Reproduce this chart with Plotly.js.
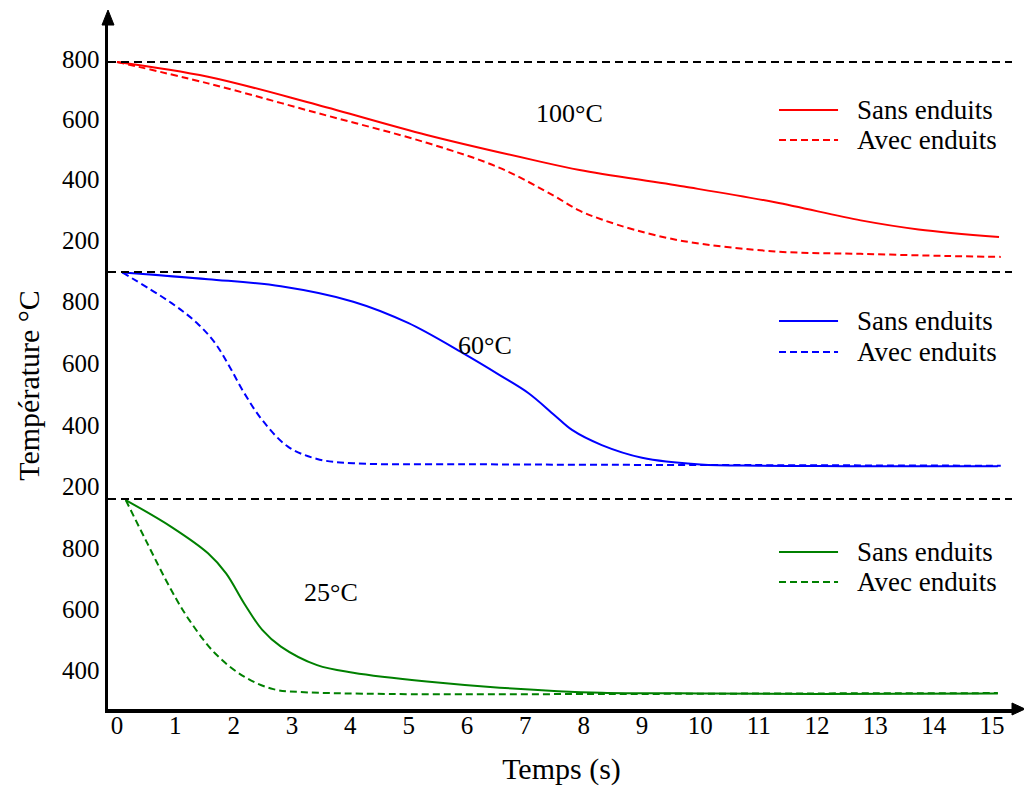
<!DOCTYPE html>
<html>
<head>
<meta charset="utf-8">
<script src="https://cdn.plot.ly/plotly-3.0.1.min.js"></script>
<style>html,body{margin:0;padding:0;background:#fff;}#chart{width:1024px;height:787px;}</style>
</head>
<body>
<div id="chart"></div>
<script>
// ---- Data (time in s, temperature in °C) ----
const tRedSans  = [0, 1.56, 3.43, 5.31, 7.18, 7.93, 9.72, 11.28, 12.75, 13.74, 15.12];
const vRedSans  = [790, 741, 648, 548, 463, 432, 377, 325, 265, 235, 210];
const tRedAvec  = [0, 1.56, 3.43, 5.31, 6.56, 7.5, 7.93, 8.31, 8.87, 9.72, 11.28, 12.75, 14.22, 15.15];
const vRedAvec  = [790, 719, 621, 522, 439, 345, 297, 268, 234, 196, 162, 154, 147, 144];

const tBlueSans = [0.09, 1.56, 2.81, 4.05, 4.99, 5.93, 6.56, 7.05, 7.5, 7.8, 8.31, 9, 10, 11, 12, 13, 14, 15.1];
const vBlueSans = [895, 873, 850, 800, 731, 633, 562, 504, 432, 384, 335, 294, 272, 268, 267, 266, 266, 266];
const tBlueAvec = [0.09, 0.93, 1.37, 1.68, 1.93, 2.18, 2.49, 2.93, 3.43, 4.05, 5.93, 8.31, 11, 13, 15.15];
const vBlueAvec = [895, 796, 731, 666, 589, 504, 416, 330, 290, 276, 273, 271, 270, 269, 268];

const tGreenSans = [0.15, 0.93, 1.56, 1.87, 2.18, 2.49, 2.81, 3.43, 4.05, 5.31, 6.56, 8.31, 10, 12, 15.1];
const vGreenSans = [959, 871, 784, 718, 619, 532, 477, 416, 391, 362, 342, 325, 323, 321, 323];
const tGreenAvec = [0.15, 0.49, 0.93, 1.24, 1.68, 2.18, 2.68, 3.11, 4.68, 8.31, 12, 15.1];
const vGreenAvec = [959, 828, 663, 564, 455, 378, 337, 328, 321, 321, 323, 324];

const seriesNames = ['Sans enduits', 'Avec enduits'];
const panelLabels = ['100°C', '60°C', '25°C'];
const panelColors = ['#ff0000', '#0000ff', '#008000'];
const xTicks = [0,1,2,3,4,5,6,7,8,9,10,11,12,13,14,15];
const yTicksTop = [200, 400, 600, 800];
const yTicksMid = [200, 400, 600, 800];
const yTicksBot = [400, 600, 800];

const FONT = 'Liberation Serif';
const dashCurve = '7px,4px';

function tr(x, y, name, color, dashed, yaxis) {
  return {
    x: x, y: y, name: name, type: 'scatter', mode: 'lines',
    xaxis: 'x', yaxis: yaxis, showlegend: false,
    line: {color: color, width: 2, dash: dashed ? dashCurve : 'solid', shape: 'spline', smoothing: 1},
    hoverinfo: 'skip'
  };
}

const data = [
  tr(tRedSans, vRedSans, seriesNames[0], panelColors[0], false, 'y'),
  tr(tRedAvec, vRedAvec, seriesNames[1], panelColors[0], true, 'y'),
  tr(tBlueSans, vBlueSans, seriesNames[0], panelColors[1], false, 'y2'),
  tr(tBlueAvec, vBlueAvec, seriesNames[1], panelColors[1], true, 'y2'),
  tr(tGreenSans, vGreenSans, seriesNames[0], panelColors[2], false, 'y3'),
  tr(tGreenAvec, vGreenAvec, seriesNames[1], panelColors[2], true, 'y3')
];

const yBase = {
  showline: true, linewidth: 3.5, linecolor: '#000', ticks: '', showgrid: false, zeroline: false,
  anchor: 'x', tickfont: {family: FONT, size: 25, color: '#000'}, ticklabelstandoff: 0, fixedrange: true
};

const dashedLine = (y) => ({type: 'line', xref: 'paper', yref: 'paper', x0: 0, x1: 0.9967, y0: y, y1: y,
  line: {color: '#000', width: 2, dash: '8px,5px'}});

// Per-panel legend (row positions in paper units)
const legendRows = [[0.8694, 0.8258], [0.5631, 0.5181], [0.2279, 0.1843]];
const legendShapes = [];
const legendTexts = [];
legendRows.forEach((rows, p) => {
  rows.forEach((yy, k) => {
    legendShapes.push({type: 'line', xref: 'paper', yref: 'paper', x0: 0.7398, x1: 0.8049, y0: yy, y1: yy,
      line: {color: panelColors[p], width: 2, dash: k === 1 ? dashCurve : 'solid'}});
    legendTexts.push({text: seriesNames[k], xref: 'paper', yref: 'paper', x: 0.8236, y: yy,
      xanchor: 'left', yanchor: 'middle', showarrow: false,
      font: {family: FONT, size: 27, color: '#000'}});
  });
});

const panelLabelPos = [[0.5083, 0.8636], [0.4157, 0.5283], [0.2459, 0.1684]];

const layout = {
  width: 1024, height: 787,
  margin: {l: 108, r: 9, t: 20, b: 78},
  paper_bgcolor: '#fff', plot_bgcolor: '#fff',
  font: {family: FONT, color: '#000'},
  showlegend: false,
  xaxis: {
    domain: [0, 1], range: [-0.1543, 15.394], anchor: 'y3',
    tickvals: xTicks, ticks: '', showgrid: false, zeroline: false,
    showline: true, linewidth: 3.5, linecolor: '#000',
    tickfont: {family: FONT, size: 25, color: '#000'}, ticklabelstandoff: -9,
    title: {text: 'Temps (s)', font: {family: FONT, size: 30, color: '#000'}, standoff: 21},
    fixedrange: true
  },
  yaxis: Object.assign({}, yBase, {domain: [0.6343, 1], range: [94, 929], tickvals: yTicksTop}),
  yaxis2: Object.assign({}, yBase, {domain: [0.3048, 0.6343], range: [160.1, 896.4], tickvals: yTicksMid,
    title: {text: 'Température °C', font: {family: FONT, size: 30, color: '#000'}, standoff: 14}}),
  yaxis3: Object.assign({}, yBase, {domain: [0, 0.3048], range: [271.7, 962.5], tickvals: yTicksBot}),
  shapes: [
    dashedLine(0.939), dashedLine(0.6343), dashedLine(0.3048),
    {type: 'path', xref: 'paper', yref: 'paper', path: 'M -0.0066,0.9927 L 0,1.0145 L 0.0066,0.9927 Z',
     fillcolor: '#000', line: {color: '#000', width: 1}},
    {type: 'path', xref: 'paper', yref: 'paper', path: 'M 0.9967,-0.0087 L 1.0110,0 L 0.9967,0.0087 Z',
     fillcolor: '#000', line: {color: '#000', width: 1}}
  ].concat(legendShapes),
  annotations: panelLabels.map((lab, i) => ({
    text: lab, xref: 'paper', yref: 'paper', x: panelLabelPos[i][0], y: panelLabelPos[i][1],
    xanchor: 'center', yanchor: 'middle', showarrow: false,
    font: {family: FONT, size: 26, color: '#000'}
  })).concat(legendTexts)
};

Plotly.newPlot('chart', data, layout, {staticPlot: true, displayModeBar: false});
</script>
</body>
</html>
